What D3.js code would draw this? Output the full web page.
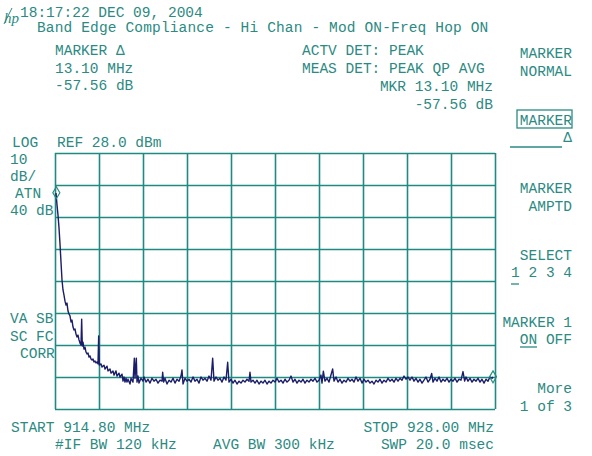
<!DOCTYPE html>
<head>
    <meta charset="utf-8">
    <script src="https://cdn.jsdelivr.net/npm/d3@7"></script>
    <style>
        body { margin: 0; background: #fff; }
        svg { display: block; }
        .lbl { font-family: "Liberation Mono", "DejaVu Sans Mono", monospace; font-size: 14.5px; fill: #2b8a82; }
        .grid line { stroke: #1f8a7f; stroke-width: 1.6; }
        .grid path { display: none; }
    </style>
</head>
<body>
<script>
    // sweep settings
    var startMHz = 914.80, stopMHz = 928.00;
    var refLevel = 28.0, dbPerDiv = 10, xDivs = 10, yDivs = 8;

    // markers: [MHz, dBm]
    var markerMHz = [914.84, 927.94];
    var markerDbm = [15.6, -41.96];

    // trace
    var traceMHz = [914.83, 914.86, 914.89, 914.92, 914.95, 914.98, 915.01, 915.04, 915.07, 915.10,
        915.13, 915.16, 915.19, 915.22, 915.25, 915.28, 915.31, 915.34, 915.37, 915.40,
        915.43, 915.46, 915.49, 915.52, 915.55, 915.58, 915.60, 915.62, 915.64, 915.67,
        915.70, 915.73, 915.76, 915.79, 915.82, 915.85, 915.88, 915.91, 915.94, 915.97,
        916.00, 916.03, 916.06, 916.09, 916.11, 916.13, 916.18, 916.21, 916.27, 916.30,
        916.36, 916.39, 916.45, 916.48, 916.54, 916.57, 916.63, 916.66, 916.72, 916.75,
        916.81, 916.84, 916.87, 916.90, 916.93, 916.96, 916.99, 917.05, 917.08, 917.14,
        917.18, 917.20, 917.24, 917.26, 917.29, 917.32, 917.38, 917.44, 917.47, 917.53,
        917.59, 917.65, 917.71, 917.77, 917.83, 917.89, 917.95, 918.01, 918.03, 918.06,
        918.10, 918.16, 918.22, 918.28, 918.34, 918.40, 918.46, 918.52, 918.58, 918.61,
        918.64, 918.70, 918.76, 918.82, 918.88, 918.94, 919.00, 919.06, 919.12, 919.18,
        919.24, 919.30, 919.36, 919.42, 919.48, 919.53, 919.57, 919.63, 919.69, 919.75,
        919.81, 919.87, 919.93, 919.98, 920.02, 920.08, 920.14, 920.20, 920.26, 920.32,
        920.38, 920.44, 920.50, 920.56, 920.62, 920.65, 920.68, 920.74, 920.80, 920.86,
        920.92, 920.98, 921.04, 921.10, 921.16, 921.22, 921.28, 921.34, 921.40, 921.46,
        921.52, 921.58, 921.64, 921.70, 921.76, 921.82, 921.88, 921.94, 922.00, 922.06,
        922.12, 922.18, 922.24, 922.30, 922.36, 922.42, 922.48, 922.54, 922.60, 922.66,
        922.72, 922.78, 922.81, 922.85, 922.90, 922.96, 923.02, 923.07, 923.13, 923.17,
        923.23, 923.29, 923.35, 923.41, 923.47, 923.53, 923.59, 923.65, 923.71, 923.77,
        923.83, 923.89, 923.95, 924.01, 924.07, 924.13, 924.19, 924.25, 924.31, 924.37,
        924.43, 924.49, 924.55, 924.61, 924.67, 924.73, 924.79, 924.85, 924.91, 924.97,
        925.03, 925.09, 925.15, 925.21, 925.27, 925.33, 925.39, 925.45, 925.51, 925.57,
        925.63, 925.69, 925.75, 925.81, 925.87, 925.93, 925.99, 926.05, 926.10, 926.14,
        926.20, 926.26, 926.32, 926.38, 926.44, 926.50, 926.56, 926.62, 926.68, 926.74,
        926.80, 926.86, 926.92, 926.98, 927.04, 927.09, 927.13, 927.19, 927.25, 927.31,
        927.37, 927.43, 927.49, 927.55, 927.61, 927.67, 927.73, 927.79, 927.85, 927.91,
        927.94];
    var traceDbm = [15.5, 11.8, 8.6, 4.6, -0.4, -6.1, -11.7, -14.8, -16.4, -18.3,
        -19.5, -18.9, -21.4, -22.3, -22.9, -24.8, -24.2, -26.4, -27.3, -27.0,
        -28.6, -29.5, -28.9, -30.4, -31.4, -32.0, -23.9, -32.3, -31.1, -33.3,
        -32.7, -34.2, -34.8, -34.5, -35.8, -35.4, -36.4, -36.7, -36.4, -37.3,
        -37.0, -37.6, -37.3, -37.9, -29.2, -38.3, -37.9, -38.9, -38.3, -39.5,
        -38.6, -40.1, -39.5, -40.8, -40.1, -41.4, -40.1, -41.7, -40.8, -42.0,
        -41.1, -43.3, -42.0, -43.6, -42.4, -43.6, -42.7, -44.2, -42.4, -43.6,
        -36.1, -42.4, -36.1, -43.6, -41.7, -43.9, -42.4, -43.3, -42.0, -43.6,
        -42.7, -43.9, -42.4, -43.3, -42.7, -43.9, -43.0, -43.3, -40.5, -43.6,
        -42.4, -44.2, -43.0, -43.6, -42.4, -43.9, -42.7, -43.3, -41.7, -39.8,
        -44.2, -42.4, -43.3, -42.7, -43.6, -42.0, -43.3, -42.7, -43.9, -42.0,
        -43.0, -42.4, -43.3, -41.7, -43.0, -36.1, -43.3, -42.0, -43.0, -42.4,
        -43.6, -42.0, -43.0, -37.4, -43.6, -42.7, -43.9, -43.0, -44.2, -43.3,
        -43.9, -43.0, -43.6, -42.7, -43.3, -40.5, -43.6, -43.0, -43.9, -43.0,
        -44.2, -43.3, -43.9, -43.0, -44.2, -43.3, -43.9, -43.0, -43.6, -42.4,
        -43.6, -43.0, -43.9, -42.7, -43.6, -43.0, -41.7, -43.6, -42.7, -43.9,
        -43.0, -43.6, -42.7, -43.9, -43.0, -43.6, -42.7, -43.3, -42.4, -43.6,
        -43.0, -41.4, -43.9, -40.2, -43.3, -42.4, -43.6, -41.7, -39.5, -43.3,
        -42.0, -43.6, -42.7, -43.9, -43.0, -43.6, -42.4, -43.3, -42.7, -43.6,
        -42.0, -43.3, -42.4, -43.9, -42.7, -43.6, -43.0, -43.9, -43.3, -44.2,
        -43.0, -43.6, -42.7, -43.9, -43.0, -43.6, -42.4, -43.3, -42.7, -43.6,
        -42.4, -43.3, -42.4, -43.0, -41.7, -42.7, -42.0, -43.0, -42.0, -43.3,
        -42.4, -43.6, -42.7, -43.9, -43.0, -42.0, -43.6, -42.7, -40.9, -43.6,
        -42.4, -43.3, -42.0, -43.6, -42.7, -43.3, -42.4, -43.6, -42.7, -43.3,
        -42.4, -43.6, -42.7, -43.0, -40.3, -43.3, -42.0, -43.3, -42.4, -43.6,
        -42.7, -43.3, -42.4, -43.6, -42.7, -43.9, -42.7, -43.3, -42.0, -42.4,
        -42.0];

    var W = 592, H = 456;
    var plot = {left: 55, top: 153, width: 440, height: 256};

    var svg = d3.select("body").append("svg")
        .attr("width", W)
        .attr("height", H);

    var x = d3.scaleLinear()
        .domain([startMHz, stopMHz])
        .range([plot.left, plot.left + plot.width]);
    var y = d3.scaleLinear()
        .domain([refLevel - yDivs * dbPerDiv, refLevel])
        .range([plot.top + plot.height, plot.top]);

    // graticule
    var xGrid = d3.range(xDivs + 1).map(function (i) { return startMHz + i * (stopMHz - startMHz) / xDivs; });
    var yGrid = d3.range(yDivs + 1).map(function (i) { return refLevel - i * dbPerDiv; });

    svg.append("g").attr("class", "grid")
        .attr("transform", "translate(0," + (plot.top + plot.height) + ")")
        .call(d3.axisBottom(x).tickValues(xGrid).tickSize(-plot.height).tickFormat(""));
    svg.append("g").attr("class", "grid")
        .attr("transform", "translate(" + plot.left + ",0)")
        .call(d3.axisLeft(y).tickValues(yGrid).tickSize(-plot.width).tickFormat(""));

    // trace
    var pts = traceMHz.map(function (f, i) { return [f, traceDbm[i]]; });
    var line = d3.line()
        .x(function (d) { return x(d[0]); })
        .y(function (d) { return y(d[1]); });
    svg.append("path")
        .datum(pts)
        .attr("d", line)
        .attr("fill", "none")
        .attr("stroke", "#1b1d6b")
        .attr("stroke-width", 1.4)
        .attr("stroke-linejoin", "round");

    // marker diamonds
    svg.selectAll(".mkr").data(markerMHz).enter()
        .append("path").attr("class", "mkr")
        .attr("d", function (d, i) {
            var cx = x(d), cy = y(markerDbm[i]);
            return "M" + cx + "," + (cy - 6) + "L" + (cx + 3.5) + "," + cy + "L" + cx + "," + (cy + 6) + "L" + (cx - 3.5) + "," + cy + "Z";
        })
        .attr("fill", "none")
        .attr("stroke", "#2b8a82")
        .attr("stroke-width", 1.2);

    // screen annotations
    var texts = [
        [20, 17, "18:17:22 DEC 09, 2004", "start"],
        [37, 32, "Band Edge Compliance - Hi Chan - Mod ON-Freq Hop ON", "start"],
        [55, 55, "MARKER \u0394", "start"],
        [55, 73, "13.10 MHz", "start"],
        [55, 90, "-57.56 dB", "start"],
        [302, 55, "ACTV DET: PEAK", "start"],
        [302, 73, "MEAS DET: PEAK QP AVG", "start"],
        [493, 91, "MKR 13.10 MHz", "end"],
        [493, 109, "-57.56 dB", "end"],
        [12, 147, "LOG", "start"],
        [57, 147, "REF 28.0 dBm", "start"],
        [10, 164, "10", "start"],
        [10, 181, "dB/", "start"],
        [15, 198, "ATN", "start"],
        [10, 215, "40 dB", "start"],
        [10, 323, "VA SB", "start"],
        [10, 341, "SC FC", "start"],
        [20, 358, "CORR", "start"],
        [11, 432, "START 914.80 MHz", "start"],
        [55, 449, "#IF BW 120 kHz", "start"],
        [213, 449, "AVG BW 300 kHz", "start"],
        [494, 432, "STOP 928.00 MHz", "end"],
        [494, 449, "SWP 20.0 msec", "end"],
        [572, 58, "MARKER", "end"],
        [572, 76, "NORMAL", "end"],
        [572, 125, "MARKER", "end"],
        [572, 142, "\u0394", "end"],
        [572, 193, "MARKER", "end"],
        [572, 211, "AMPTD", "end"],
        [572, 260, "SELECT", "end"],
        [572, 277, "1 2 3 4", "end"],
        [572, 327, "MARKER 1", "end"],
        [572, 344, "ON OFF", "end"],
        [572, 393, "More", "end"],
        [572, 411, "1 of 3", "end"]
    ];
    svg.selectAll(".lbl").data(texts).enter()
        .append("text").attr("class", "lbl")
        .attr("x", function (d) { return d[0]; })
        .attr("y", function (d) { return d[1]; })
        .attr("text-anchor", function (d) { return d[3]; })
        .attr("letter-spacing", function (d, i) { return i === 1 ? "0.15px" : null; })
        .text(function (d) { return d[2]; });

    // softkey decorations
    svg.append("rect").attr("x", 517).attr("y", 110).attr("width", 55).attr("height", 18)
        .attr("fill", "none").attr("stroke", "#2b8a82").attr("stroke-width", 1.3);
    svg.append("line").attr("x1", 510).attr("x2", 562).attr("y1", 147).attr("y2", 147)
        .attr("stroke", "#2b8a82").attr("stroke-width", 1.3);
    svg.append("line").attr("x1", 511).attr("x2", 519).attr("y1", 284).attr("y2", 284)
        .attr("stroke", "#2b8a82").attr("stroke-width", 1.3);
    svg.append("line").attr("x1", 520).attr("x2", 537).attr("y1", 347).attr("y2", 347)
        .attr("stroke", "#2b8a82").attr("stroke-width", 1.3);

    // hp logo
    svg.append("text")
        .attr("x", 4).attr("y", 23)
        .attr("font-family", "Liberation Serif, serif")
        .attr("font-style", "italic")
        .attr("font-size", 15)
        .attr("fill", "#2b8a82")
        .text("hp");
    svg.append("line").attr("x1", 4).attr("y1", 24).attr("x2", 12).attr("y2", 8)
        .attr("stroke", "#2b8a82").attr("stroke-width", 1);
</script>
</body>
